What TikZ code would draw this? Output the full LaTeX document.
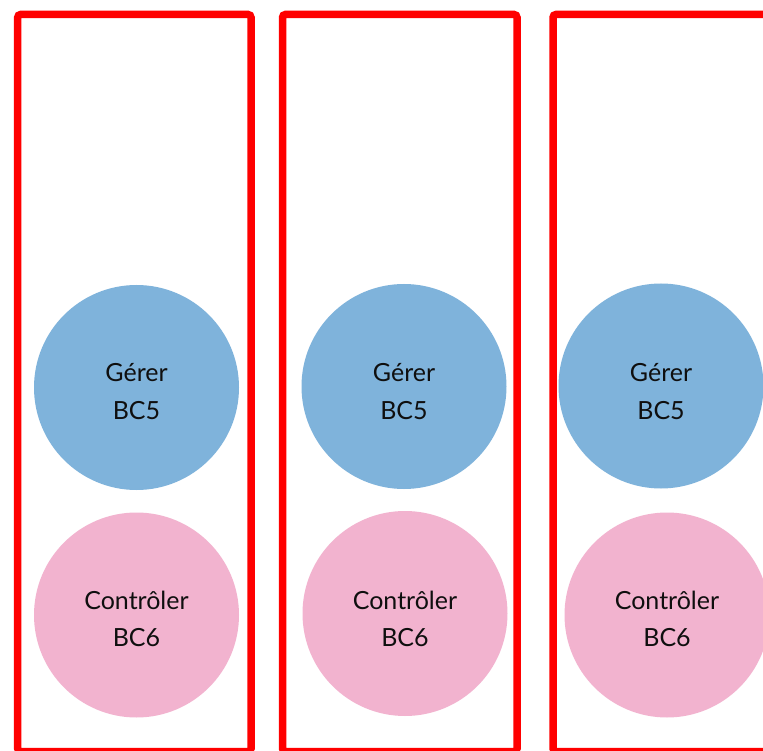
\documentclass[tikz,border=0pt]{standalone}
\usepackage{fontspec}
\setmainfont{Lato}
\definecolor{boxred}{RGB}{255,0,0}
\definecolor{bcblue}{RGB}{127,179,219}
\definecolor{bcpink}{RGB}{242,179,207}
\definecolor{txt}{RGB}{15,15,15}
\begin{document}
\begin{tikzpicture}[x=1pt,y=-1pt,
  frame/.style={draw=boxred,line width=7.5pt,rounded corners=3pt},
  bubble/.style={circle,inner sep=0pt,minimum size=205pt},
  gerer/.style={bubble,fill=bcblue},
  ctrl/.style={bubble,fill=bcpink},
  lbl/.style={anchor=base,inner sep=0pt,text=txt,font=\fontsize{25}{30}\selectfont}]
\useasboundingbox (0,0) rectangle (763,751);
\clip (0,0) rectangle (763,751);
\fill[white] (0,0) rectangle (763,751);
% frames
\draw[frame] (17.7,14.5) rectangle (251,751.5);
\draw[frame] (282.5,14.5) rectangle (517,751.5);
\draw[frame] (553,14.5) rectangle (800,751.5);
% column 1
\node[gerer] (g1) at (136.5,387.5) {};
\node[ctrl] (c1) at (136.5,615) {};
\node[lbl] (g1a) at (136.5,381.5) {Gérer};
\node[lbl] (g1b) at (136.5,419.5) {BC5};
\node[lbl] (c1a) at (136.5,609) {Contrôler};
\node[lbl] (c1b) at (136.5,646.5) {BC6};
% column 2
\node[gerer] (g2) at (404,386.5) {};
\node[ctrl] (c2) at (405,613.5) {};
\node[lbl] (g2a) at (404,381) {Gérer};
\node[lbl] (g2b) at (404,419.5) {BC5};
\node[lbl] (c2a) at (405,609) {Contrôler};
\node[lbl] (c2b) at (405,646.5) {BC6};
% column 3
\node[gerer] (g3) at (661,386) {};
\node[ctrl] (c3) at (667,615) {};
\node[lbl] (g3a) at (661,381) {Gérer};
\node[lbl] (g3b) at (661,419.5) {BC5};
\node[lbl] (c3a) at (667,609) {Contrôler};
\node[lbl] (c3b) at (667,646.5) {BC6};
\end{tikzpicture}
\end{document}
